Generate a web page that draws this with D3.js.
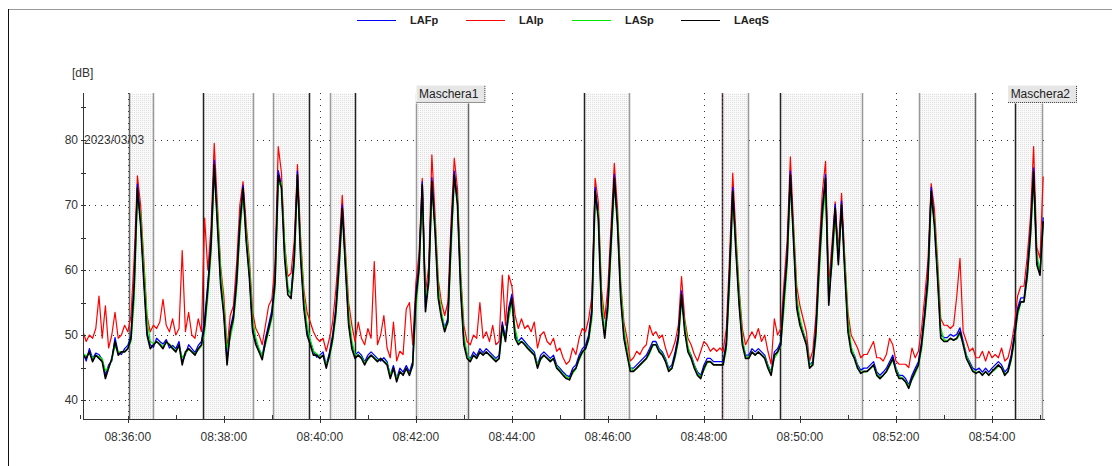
<!DOCTYPE html>
<html>
<head>
<meta charset="utf-8">
<script src="https://cdn.jsdelivr.net/npm/d3@7"></script>
<style>
body { margin: 0; background: #fff; }
svg { display: block; }
text { font-family: "Liberation Sans", Arial, sans-serif; }
</style>
</head>
<body>
<div id="canvas"></div>
<script>
"use strict"

/* Configuration variables: drawing */
let svgWidth = 1112;
let svgHeight = 466;

/* plot area */
let plotLeft = 83;
let plotRight = 1044;
let plotTop = 93;
let plotBottom = 419;

/* Series: one value every 4 s from 08:35:04 */
let startTime = "08:35:04";
let endTime = "08:55:05";
let stepSeconds = 4;

let laeqS = [
    46.9, 46.4, 47.4, 45.9, 46.9, 46.4, 45.9, 43.3, 44.9, 46.4,
    49.0, 46.9, 47.4, 47.4, 47.9, 49.5, 57.7, 72.6, 66.9, 58.2,
    50.0, 47.9, 48.5, 49.0, 48.5, 47.9, 49.0, 48.5, 47.9, 47.4,
    48.5, 45.4, 47.4, 47.9, 47.4, 46.9, 47.9, 48.5, 51.5, 57.2,
    63.8, 76.2, 66.9, 57.7, 53.1, 45.4, 50.5, 52.6, 58.2, 66.9,
    72.6, 64.4, 58.7, 50.5, 48.5, 47.4, 46.2, 49.0, 51.0, 53.1,
    58.2, 74.6, 72.6, 61.8, 56.2, 55.6, 61.8, 74.6, 61.8, 54.1,
    50.0, 48.5, 46.9, 46.9, 46.4, 46.9, 44.9, 46.9, 49.5, 53.6,
    60.8, 69.5, 60.3, 51.5, 47.9, 46.4, 46.9, 46.4, 45.4, 46.4,
    46.9, 46.4, 45.9, 46.4, 45.9, 45.4, 43.3, 44.9, 42.8, 44.4,
    43.8, 44.9, 43.8, 45.4, 55.6, 60.3, 73.1, 53.6, 58.2, 73.6,
    65.9, 55.6, 52.6, 50.5, 52.1, 64.9, 74.6, 70.0, 56.7, 48.5,
    46.4, 45.9, 46.9, 46.4, 47.4, 46.9, 47.4, 46.9, 46.4, 45.9,
    46.4, 51.5, 49.0, 53.6, 55.6, 49.5, 48.5, 49.0, 48.5, 47.9,
    47.4, 46.9, 44.9, 46.4, 46.9, 46.4, 45.9, 46.4, 44.9, 44.4,
    43.8, 43.3, 43.1, 44.4, 44.9, 46.4, 47.4, 47.9, 49.5, 53.6,
    72.1, 67.9, 53.6, 49.5, 54.6, 64.4, 74.1, 66.9, 55.6, 49.5,
    46.9, 44.4, 44.4, 44.9, 45.4, 45.9, 46.4, 47.4, 48.5, 48.5,
    47.4, 46.9, 45.9, 44.4, 44.9, 46.9, 49.5, 56.2, 50.5, 47.4,
    46.4, 44.9, 43.8, 43.3, 44.9, 45.9, 45.9, 45.4, 45.4, 45.4,
    45.4, 48.5, 59.2, 72.1, 62.8, 54.6, 48.5, 46.4, 46.4, 47.4,
    46.9, 47.4, 46.9, 46.4, 44.9, 43.8, 46.9, 47.4, 48.5, 55.6,
    61.8, 74.6, 64.4, 54.1, 51.5, 50.0, 48.5, 44.9, 45.4, 50.5,
    60.8, 69.0, 74.1, 54.6, 61.8, 69.5, 60.8, 70.0, 59.7, 50.5,
    47.4, 46.4, 44.9, 44.1, 44.4, 44.4, 44.9, 45.4, 43.8, 43.3,
    43.8, 44.4, 45.4, 46.4, 44.4, 43.3, 43.3, 42.8, 41.8, 43.3,
    44.4, 45.4, 48.5, 53.1, 58.7, 72.1, 66.9, 58.7, 49.5, 49.0,
    49.0, 49.5, 49.2, 49.5, 50.5, 48.5, 46.4, 45.4, 44.4, 44.1,
    44.4, 43.8, 44.4, 43.8, 44.4, 44.9, 45.4, 44.9, 43.8, 44.4,
    46.4, 49.5, 53.6, 55.1, 55.1, 59.2, 65.4, 75.1, 60.8, 59.2,
    67.5
];

let laIp = [
    50.5, 49.0, 50.0, 49.5, 51.0, 56.0, 49.5, 54.5, 48.0, 50.0,
    53.5, 49.5, 50.0, 51.5, 50.5, 53.0, 62.0, 74.5, 70.0, 61.5,
    53.0, 50.5, 51.5, 51.0, 52.0, 55.5, 51.5, 50.5, 52.5, 50.0,
    51.0, 63.0, 50.5, 53.5, 50.0, 49.5, 52.5, 50.5, 68.0, 60.0,
    66.5, 79.5, 70.0, 60.5, 56.0, 48.0, 53.0, 54.5, 61.0, 70.0,
    73.6, 67.0, 61.5, 53.5, 51.0, 50.0, 48.5, 51.5, 54.5, 55.5,
    61.0, 79.0, 75.0, 64.0, 59.0, 59.5, 64.5, 76.2, 65.0, 57.0,
    53.5, 52.0, 50.5, 49.5, 49.0, 49.5, 47.5, 49.5, 52.0, 57.0,
    63.5, 71.5, 63.0, 55.0, 51.5, 49.0, 52.0, 49.5, 48.5, 51.0,
    49.5, 61.3, 48.5, 50.0, 53.0, 48.0, 46.5, 52.0, 46.0, 47.5,
    47.0, 54.0, 55.0, 48.5, 58.0, 62.5, 74.1, 56.5, 60.5, 77.7,
    68.5, 58.5, 55.0, 53.0, 55.0, 67.5, 77.2, 72.5, 59.5, 51.5,
    49.0, 48.5, 50.0, 49.5, 55.0, 49.5, 50.5, 49.0, 51.5, 48.5,
    49.0, 59.2, 51.5, 59.2, 57.5, 53.0, 51.0, 52.5, 51.0, 51.5,
    50.5, 52.0, 48.0, 50.0, 50.5, 49.0, 48.5, 49.5, 47.5, 48.0,
    46.5, 45.5, 46.0, 48.0, 47.0, 49.5, 51.0, 50.5, 52.5, 56.0,
    74.1, 70.5, 57.0, 52.5, 57.5, 67.0, 76.4, 69.5, 58.0, 52.0,
    49.5, 46.0, 46.5, 47.5, 47.0, 48.0, 48.5, 51.5, 50.0, 50.5,
    49.5, 50.0, 48.0, 46.5, 47.5, 49.0, 51.5, 59.0, 52.5, 49.5,
    48.5, 47.0, 46.0, 47.5, 49.0, 48.5, 47.5, 48.0, 47.5, 48.0,
    47.5, 51.0, 62.0, 74.9, 65.5, 57.0, 51.0, 48.5, 49.5, 50.5,
    49.5, 51.0, 49.0, 50.0, 47.5, 45.5, 52.5, 50.0, 51.0, 58.0,
    64.5, 77.4, 67.0, 57.5, 54.5, 52.5, 50.5, 46.0, 47.5, 53.0,
    63.5, 72.0, 76.7, 58.0, 64.0, 70.5, 63.0, 71.8, 62.0, 53.5,
    50.0, 49.0, 48.0, 46.5, 47.0, 47.0, 48.0, 49.0, 46.5, 46.5,
    46.0, 47.0, 49.5, 48.5, 46.0, 45.5, 45.5, 45.5, 45.0, 48.0,
    46.5, 47.5, 51.0, 56.0, 61.5, 73.3, 69.5, 61.5, 52.5, 51.5,
    51.5, 51.0, 51.5, 56.0, 61.8, 50.5, 49.0, 47.5, 48.0, 46.5,
    46.5, 47.5, 46.0, 47.5, 46.5, 47.0, 46.5, 48.0, 46.0, 46.5,
    48.5, 51.5, 56.0, 57.5, 57.5, 62.0, 68.0, 79.0, 63.5, 61.8,
    74.4
];

let laFp = [
    47.3, 46.0, 47.9, 46.4, 47.2, 47.0, 46.2, 43.8, 45.4, 46.0,
    49.6, 47.3, 47.0, 47.9, 48.4, 49.9, 58.3, 73.2, 67.5, 58.9,
    50.4, 48.5, 48.1, 49.5, 49.0, 48.6, 49.3, 48.0, 48.4, 47.9,
    49.0, 45.9, 47.0, 48.5, 47.9, 47.3, 48.4, 49.0, 52.4, 57.9,
    64.5, 76.9, 67.6, 58.4, 53.6, 45.9, 51.0, 53.2, 58.8, 67.5,
    73.0, 64.9, 59.2, 51.0, 49.0, 47.8, 46.8, 49.5, 51.6, 53.8,
    58.7, 75.3, 73.1, 62.4, 56.9, 56.3, 62.3, 75.2, 62.4, 54.7,
    50.6, 49.0, 47.5, 46.6, 46.9, 47.4, 45.4, 47.3, 50.0, 54.2,
    61.5, 70.0, 60.9, 52.0, 48.4, 46.9, 47.4, 46.9, 45.9, 46.9,
    47.4, 46.9, 46.4, 46.0, 46.5, 45.9, 43.8, 45.3, 43.3, 44.9,
    44.3, 45.3, 44.3, 45.9, 56.3, 60.9, 73.6, 54.2, 58.8, 74.2,
    66.5, 56.2, 53.1, 51.1, 52.6, 65.5, 75.2, 70.6, 57.3, 49.0,
    46.9, 46.4, 47.4, 46.8, 47.9, 47.3, 47.9, 47.4, 46.9, 46.4,
    46.9, 52.0, 49.5, 54.2, 56.3, 50.1, 49.0, 49.6, 49.0, 48.4,
    47.9, 47.4, 45.4, 46.9, 47.4, 46.9, 46.4, 46.9, 45.4, 44.9,
    44.3, 43.8, 43.6, 44.9, 45.4, 46.9, 47.9, 48.4, 50.0, 54.2,
    72.7, 68.5, 54.2, 50.0, 55.2, 65.0, 74.7, 67.5, 56.2, 50.0,
    47.4, 44.9, 44.9, 45.4, 45.9, 46.4, 46.9, 47.9, 49.0, 49.0,
    47.9, 47.4, 46.4, 44.9, 45.4, 47.4, 50.0, 56.8, 51.0, 47.9,
    46.9, 45.4, 44.3, 43.8, 45.4, 46.4, 46.4, 45.9, 45.9, 45.9,
    45.9, 49.0, 59.8, 72.7, 63.4, 55.2, 49.0, 46.9, 46.9, 47.9,
    47.4, 47.9, 47.4, 46.9, 45.4, 44.3, 47.4, 47.9, 49.0, 56.2,
    62.4, 75.2, 65.0, 54.7, 52.0, 50.5, 49.0, 45.4, 45.9, 51.0,
    61.4, 69.6, 74.7, 55.2, 62.4, 70.1, 61.4, 70.6, 60.3, 51.0,
    47.9, 46.9, 45.4, 44.6, 44.9, 44.9, 45.4, 45.9, 44.3, 43.8,
    44.3, 44.9, 45.9, 46.9, 44.9, 43.8, 43.8, 43.3, 42.3, 43.8,
    44.9, 45.9, 49.0, 53.7, 59.3, 72.7, 67.5, 59.3, 50.0, 49.6,
    49.6, 50.1, 49.8, 50.1, 51.1, 49.0, 46.9, 45.9, 44.9, 44.6,
    44.9, 44.3, 44.9, 44.3, 44.9, 45.4, 45.9, 45.4, 44.3, 44.9,
    46.9, 50.1, 54.2, 55.7, 55.7, 59.8, 66.0, 75.7, 61.4, 59.8,
    68.1
];

let laSp = [
    47.1, 46.8, 47.2, 46.5, 46.8, 46.7, 46.3, 44.5, 45.0, 46.2,
    48.3, 47.4, 47.4, 47.5, 47.9, 49.0, 55.5, 71.0, 68.5, 60.5,
    52.5, 49.0, 48.7, 48.9, 48.7, 48.2, 48.8, 48.6, 48.1, 47.6,
    48.2, 46.5, 47.2, 47.8, 47.5, 47.1, 47.7, 48.3, 50.5, 56.0,
    62.5, 74.5, 69.0, 60.0, 54.5, 48.0, 49.5, 52.0, 57.0, 65.5,
    71.5, 66.0, 60.5, 52.5, 49.5, 47.9, 46.8, 48.5, 50.5, 52.5,
    57.0, 73.0, 73.5, 64.0, 57.5, 55.9, 60.5, 73.5, 64.0, 56.0,
    51.5, 49.3, 47.5, 47.1, 46.7, 46.8, 45.5, 46.5, 49.0, 52.8,
    59.5, 68.5, 62.0, 53.5, 49.0, 47.0, 46.9, 46.6, 45.8, 46.2,
    46.8, 46.6, 46.1, 46.3, 46.0, 45.6, 44.0, 44.7, 43.4, 44.2,
    44.0, 44.7, 44.1, 45.2, 54.0, 59.5, 71.5, 56.0, 57.5, 72.0,
    67.5, 57.5, 53.5, 51.0, 51.8, 63.0, 73.5, 71.0, 59.0, 50.0,
    47.0, 46.2, 46.8, 46.5, 47.2, 47.0, 47.3, 47.0, 46.6, 46.1,
    46.3, 50.5, 49.5, 52.5, 55.0, 51.0, 48.9, 49.0, 48.7, 48.1,
    47.6, 47.0, 45.5, 46.2, 46.8, 46.5, 46.1, 46.3, 45.2, 44.6,
    44.0, 43.6, 43.3, 44.1, 44.8, 46.1, 47.2, 47.8, 49.2, 52.5,
    70.0, 69.0, 56.0, 50.5, 53.5, 63.0, 72.5, 68.5, 57.5, 51.0,
    47.8, 45.0, 44.5, 44.8, 45.3, 45.8, 46.3, 47.1, 48.3, 48.6,
    47.7, 47.1, 46.2, 44.8, 44.8, 46.5, 49.0, 55.0, 52.0, 48.2,
    46.7, 45.3, 44.1, 43.6, 44.6, 45.7, 45.9, 45.5, 45.4, 45.4,
    45.4, 47.8, 57.5, 70.5, 64.5, 56.5, 49.5, 46.8, 46.5, 47.2,
    47.0, 47.3, 47.0, 46.6, 45.3, 44.2, 46.4, 47.2, 48.3, 54.0,
    60.5, 72.5, 66.0, 56.0, 52.5, 50.5, 48.8, 45.6, 45.3, 49.5,
    59.0, 67.5, 72.5, 57.0, 60.5, 68.0, 62.5, 68.5, 61.5, 52.5,
    48.2, 46.7, 45.2, 44.3, 44.3, 44.4, 44.8, 45.3, 44.1, 43.5,
    43.8, 44.3, 45.2, 46.1, 44.8, 43.6, 43.4, 42.9, 42.2, 43.1,
    44.1, 45.2, 47.8, 52.5, 57.5, 70.5, 68.0, 60.5, 51.0, 49.3,
    49.1, 49.4, 49.3, 49.4, 50.1, 48.8, 46.8, 45.6, 44.6, 44.2,
    44.3, 43.9, 44.3, 43.9, 44.3, 44.7, 45.2, 45.0, 44.0, 44.3,
    46.0, 49.0, 53.0, 55.0, 55.2, 58.5, 64.5, 73.5, 62.5, 59.5,
    67.0
];

/* masked periods (start, end) and their edge shades (d = dark, m = mid, l = light) */
let bandStarts = ["08:36:02", "08:37:34", "08:39:01", "08:40:13", "08:42:00",
    "08:45:30", "08:48:22", "08:49:35", "08:52:29", "08:54:29"];
let bandEnds = ["08:36:31", "08:38:37", "08:39:46", "08:40:44", "08:43:05",
    "08:46:26", "08:48:55", "08:51:18", "08:53:39", "08:55:02"];
let bandLeftShade = ["m", "d", "l", "l", "l", "d", "d", "d", "l", "d"];
let bandRightShade = ["l", "l", "d", "d", "m", "l", "l", "l", "m", "l"];

let maskNames = ["Maschera1", "Maschera2"];
let maskBands = [4, 9];

let markerTime = "08:48:24";
let dateLabel = "2023/03/03";

let seriesNames = ["LAFp", "LAIp", "LASp", "LAeqS"];
let seriesColors = ["#0000ff", "#ff0000", "#00e800", "#000000"];

let yTicks = [40, 50, 60, 70, 80];

/* parse times */
let parseTime = d3.timeParse("%H:%M:%S");
let t0 = parseTime(startTime);
let times = laeqS.map(function(d, i) {
    return new Date(t0.getTime() + i * stepSeconds * 1000);
});

/* Create drawing canvas */
let svg = d3.select("#canvas")
    .append("svg")
    .attr("width", svgWidth)
    .attr("height", svgHeight);

/* stipple pattern for the masked periods */
let defs = svg.append("defs");
let pat = defs.append("pattern")
    .attr("id", "stipple")
    .attr("width", 2)
    .attr("height", 2)
    .attr("patternUnits", "userSpaceOnUse");
pat.append("rect").attr("width", 2).attr("height", 2).attr("fill", "#fafafa");
pat.append("rect").attr("width", 1).attr("height", 1).attr("fill", "#dedede");

defs.append("clipPath")
    .attr("id", "plotClip")
    .append("rect")
    .attr("x", plotLeft)
    .attr("y", plotTop)
    .attr("width", plotRight - plotLeft)
    .attr("height", plotBottom - plotTop);

/* outer frame */
svg.append("line")
    .attr("x1", 8).attr("x2", svgWidth)
    .attr("y1", 9.5).attr("y2", 9.5)
    .attr("stroke", "#999");
svg.append("line")
    .attr("x1", 8.5).attr("x2", 8.5)
    .attr("y1", 9).attr("y2", svgHeight)
    .attr("stroke", "#111");

/* Scales */
let xScale = d3.scaleTime()
    .domain([parseTime(startTime), parseTime(endTime)])
    .range([plotLeft, plotRight]);

let yScale = d3.scaleLinear()
    .domain([37.08, 87.23])
    .range([plotBottom, plotTop]);

/* dotted grid */
svg.append("g")
    .selectAll("line")
    .data(yTicks)
    .join("line")
    .attr("x1", plotLeft)
    .attr("x2", plotRight)
    .attr("y1", d => Math.round(yScale(d)) + 0.5)
    .attr("y2", d => Math.round(yScale(d)) + 0.5)
    .attr("stroke", "#333")
    .attr("stroke-dasharray", "1,5");

let majorTimes = d3.timeMinute.every(2).range(parseTime("08:36:00"), parseTime("08:55:00"));
let minorTimes = d3.timeMinute.every(1).range(parseTime("08:35:00"), parseTime("08:55:30"))
    .filter(d => d.getMinutes() % 2 === 1);

svg.append("g")
    .selectAll("line")
    .data(majorTimes)
    .join("line")
    .attr("x1", d => Math.round(xScale(d)) + 0.5)
    .attr("x2", d => Math.round(xScale(d)) + 0.5)
    .attr("y1", plotTop)
    .attr("y2", plotBottom)
    .attr("stroke", "#333")
    .attr("stroke-dasharray", "1,5");

/* masked periods */
let shadeColor = { d: "#222", m: "#666", l: "#999" };
let bandG = svg.append("g");
bandStarts.forEach(function(s, i) {
    let x1 = Math.round(xScale(parseTime(s)));
    let x2 = Math.round(xScale(parseTime(bandEnds[i])));
    bandG.append("rect")
        .attr("x", x1)
        .attr("y", plotTop)
        .attr("width", x2 - x1)
        .attr("height", plotBottom - plotTop)
        .attr("fill", "url(#stipple)");
    bandG.append("line")
        .attr("x1", x1 + 0.5).attr("x2", x1 + 0.5)
        .attr("y1", plotTop).attr("y2", plotBottom)
        .attr("stroke", shadeColor[bandLeftShade[i]])
        .attr("stroke-width", 1.5);
    bandG.append("line")
        .attr("x1", x2 + 0.5).attr("x2", x2 + 0.5)
        .attr("y1", plotTop).attr("y2", plotBottom)
        .attr("stroke", shadeColor[bandRightShade[i]])
        .attr("stroke-width", 1.5);
});

/* marker line */
svg.append("line")
    .attr("x1", Math.round(xScale(parseTime(markerTime))) + 0.5)
    .attr("x2", Math.round(xScale(parseTime(markerTime))) + 0.5)
    .attr("y1", plotTop)
    .attr("y2", plotBottom)
    .attr("stroke", "#f4b6d2")
    .attr("stroke-width", 1.5)
    .attr("stroke-dasharray", "2,2");

/* series lines */
let lineGen = function(values) {
    return d3.line()
        .x((d, i) => xScale(times[i]))
        .y(d => yScale(d))(values);
};

let seriesData = [laIp, laFp, laSp, laeqS];
let drawColors = [seriesColors[1], seriesColors[0], seriesColors[2], seriesColors[3]];
let drawWidths = [1.2, 1.3, 1.3, 1.6];

let lineG = svg.append("g").attr("clip-path", "url(#plotClip)");
seriesData.forEach(function(values, k) {
    lineG.append("path")
        .attr("d", lineGen(values))
        .attr("fill", "none")
        .attr("stroke", drawColors[k])
        .attr("stroke-width", drawWidths[k])
        .attr("stroke-linejoin", "round");
});

/* axes */
let axisColor = "#333";
svg.append("line")
    .attr("x1", plotLeft + 0.5).attr("x2", plotLeft + 0.5)
    .attr("y1", plotTop).attr("y2", plotBottom + 1)
    .attr("stroke", axisColor);
svg.append("line")
    .attr("x1", plotLeft).attr("x2", plotRight + 1)
    .attr("y1", plotBottom + 0.5).attr("y2", plotBottom + 0.5)
    .attr("stroke", axisColor);

/* y ticks every 5 dB, labels every 10 */
let yMinor = d3.range(40, 86, 5);
svg.append("g")
    .selectAll("line")
    .data(yMinor)
    .join("line")
    .attr("x1", plotLeft - 2)
    .attr("x2", plotLeft + 3)
    .attr("y1", d => Math.round(yScale(d)) + 0.5)
    .attr("y2", d => Math.round(yScale(d)) + 0.5)
    .attr("stroke", axisColor);

svg.append("g")
    .selectAll("text")
    .data(yTicks)
    .join("text")
    .attr("x", plotLeft - 5)
    .attr("y", d => yScale(d))
    .attr("dy", "0.36em")
    .attr("text-anchor", "end")
    .attr("font-size", 12)
    .attr("fill", "#333")
    .text(d => d);

/* x ticks */
svg.append("g")
    .selectAll("line")
    .data(majorTimes)
    .join("line")
    .attr("x1", d => Math.round(xScale(d)) + 0.5)
    .attr("x2", d => Math.round(xScale(d)) + 0.5)
    .attr("y1", plotBottom - 3)
    .attr("y2", plotBottom + 4)
    .attr("stroke", axisColor);
svg.append("g")
    .selectAll("line")
    .data(minorTimes)
    .join("line")
    .attr("x1", d => Math.round(xScale(d)) + 0.5)
    .attr("x2", d => Math.round(xScale(d)) + 0.5)
    .attr("y1", plotBottom - 4)
    .attr("y2", plotBottom)
    .attr("stroke", axisColor);

let timeFormat = d3.timeFormat("%H:%M:%S");
svg.append("g")
    .selectAll("text")
    .data(majorTimes)
    .join("text")
    .attr("x", d => xScale(d))
    .attr("y", 441)
    .attr("text-anchor", "middle")
    .attr("font-size", 12)
    .attr("fill", "#333")
    .text(d => timeFormat(d));

/* unit and date */
svg.append("text")
    .attr("x", 72)
    .attr("y", 77)
    .attr("font-size", 12)
    .attr("fill", "#333")
    .text("[dB]");

svg.append("text")
    .attr("x", plotLeft + 1)
    .attr("y", yScale(80))
    .attr("dy", "0.36em")
    .attr("font-size", 12)
    .attr("fill", "#333")
    .text(dateLabel);

/* mask labels */
maskNames.forEach(function(name, i) {
    let bx = Math.round(xScale(parseTime(bandStarts[maskBands[i]])));
    let g = svg.append("g");
    let txt = g.append("text")
        .attr("y", 98)
        .attr("font-size", 12)
        .attr("fill", "#222")
        .text(name);
    let w = txt.node().getComputedTextLength() + 10;
    bx = Math.min(bx, 1077 - w);
    txt.attr("x", bx + 3);
    g.insert("rect", "text")
        .attr("x", bx)
        .attr("y", 85)
        .attr("width", w)
        .attr("height", 18)
        .attr("fill", "#e6e6e6")
        .attr("stroke", "#fff");
    g.append("path")
        .attr("d", "M" + (bx + 0.5) + "," + 102.5 + "H" + (bx + w - 0.5) + "V" + 85)
        .attr("fill", "none")
        .attr("stroke", "#333")
        .attr("stroke-dasharray", "1,1");
});

/* legend */
let legendLineX = [357, 466, 572, 681];
seriesNames.forEach(function(name, i) {
    svg.append("line")
        .attr("x1", legendLineX[i])
        .attr("x2", legendLineX[i] + 39)
        .attr("y1", 20.5)
        .attr("y2", 20.5)
        .attr("stroke", seriesColors[i])
        .attr("stroke-width", 1.2);
    svg.append("text")
        .attr("x", legendLineX[i] + 53)
        .attr("y", 24)
        .attr("font-size", 11)
        .attr("font-weight", "bold")
        .attr("fill", "#222")
        .text(name);
});
</script>
</body>
</html>
